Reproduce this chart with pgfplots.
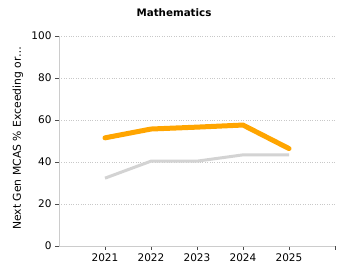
\documentclass[border=0pt]{standalone}
\usepackage{pgfplots}
\pgfplotsset{compat=1.18}
\usepackage{fontspec}
\setmainfont{DejaVu Sans}
\definecolor{gridc}{HTML}{C8C8C8}
\definecolor{axc}{HTML}{CCCCCC}
\definecolor{orangec}{HTML}{FFA500}
\definecolor{grayc}{HTML}{D3D3D3}
\begin{document}
\begin{tikzpicture}[x=1bp,y=1bp]
\path[use as bounding box] (0,0) rectangle (350,280);
\node[font=\fontsize{10.3bp}{12bp}\selectfont\bfseries] at (174,267) {Mathematics};
\node[rotate=90,font=\fontsize{10.8bp}{12bp}\selectfont] at (18,142) {Next Gen MCAS \% Exceeding or…};
\begin{axis}[
  at={(59bp,34bp)}, anchor=south west,
  scale only axis, width=276bp, height=210bp,
  xmin=2020, xmax=2026, ymin=0, ymax=100,
  xtick={2021,2022,2023,2024,2025,2026},
  xticklabels={2021,2022,2023,2024,2025,},
  ytick={0,20,40,60,80,100},
  axis x line*=bottom, axis y line*=left,
  axis line style={axc, line width=0.8pt},
  tick style={black!70, line width=0.6pt},
  major tick length=4bp,
  xtick pos=lower, ytick pos=left,
  tick align=outside,
  ymajorgrids, grid style={gridc, dotted, line width=0.6pt},
  tick label style={font=\fontsize{10.5bp}{12bp}\selectfont},
  /pgf/number format/assume math mode=true,
  xticklabel style={/pgf/number format/1000 sep={}},
  clip=false,
]
\addplot[grayc, line width=3bp, line join=round] coordinates {(2021,32.3) (2022,40.4) (2023,40.4) (2024,43.4) (2025,43.4)};
\addplot[orangec, line width=5bp, line join=round, line cap=round] coordinates {(2021,51.5) (2022,55.7) (2023,56.6) (2024,57.6) (2025,46.4)};
\end{axis}
\end{tikzpicture}
\end{document}
